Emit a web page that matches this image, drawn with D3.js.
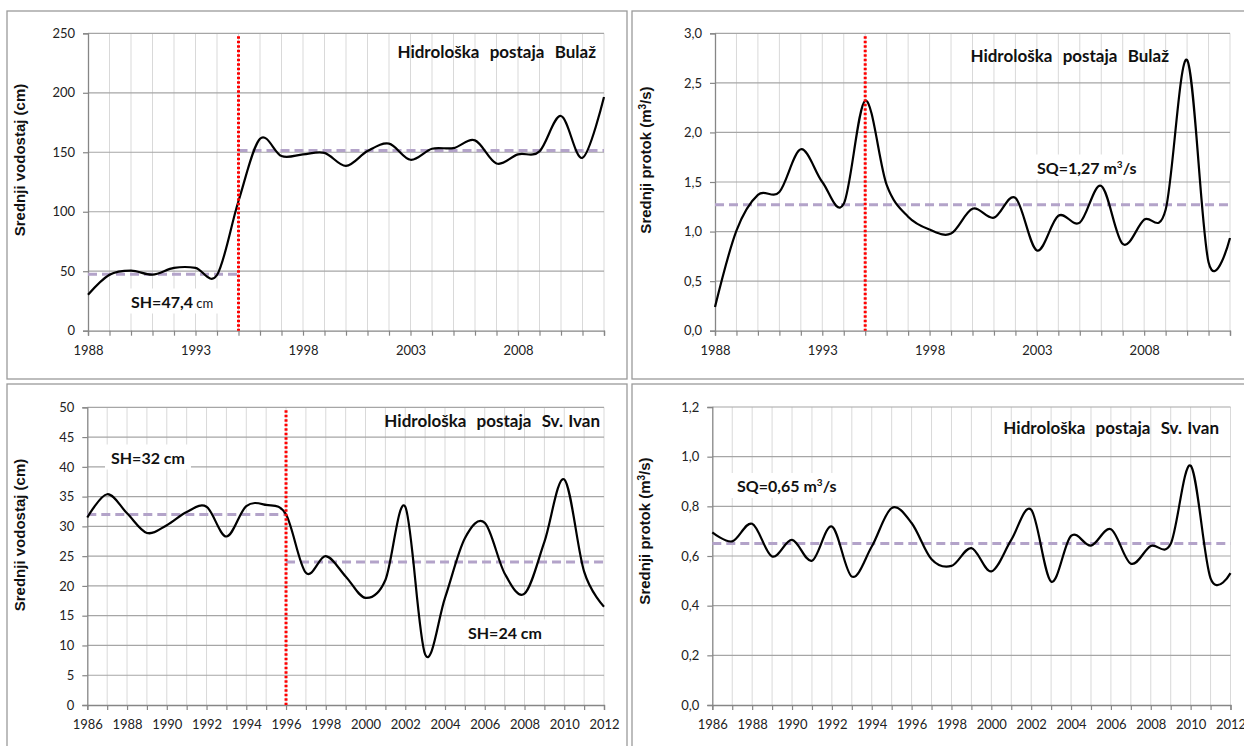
<!DOCTYPE html>
<html>
<head>
<meta charset="utf-8">
<script src="https://cdn.jsdelivr.net/npm/d3@7/dist/d3.min.js"></script>
<style>
  body { margin: 0; background: #fff; }
  svg { display: block; }
</style>
</head>
<body>
<svg id="chart" width="1244" height="746"></svg>
<script>
// ---- data ----
const yearsBulaz = [1988, 1989, 1990, 1991, 1992, 1993, 1994, 1995, 1996, 1997, 1998, 1999, 2000,
                    2001, 2002, 2003, 2004, 2005, 2006, 2007, 2008, 2009, 2010, 2011, 2012];
const yearsSvIvan = [1986, 1987, 1988, 1989, 1990, 1991, 1992, 1993, 1994, 1995, 1996, 1997, 1998, 1999,
                     2000, 2001, 2002, 2003, 2004, 2005, 2006, 2007, 2008, 2009, 2010, 2011, 2012];

// Bulaž: mean annual water level (cm) and mean annual discharge (m3/s)
const bulazLevel = [30.3, 47.0, 50.5, 47.1, 52.8, 52.8, 46.8, 109.0, 161.3, 146.8, 148.2, 149.5, 138.5,
                    151.0, 157.2, 143.7, 153.0, 153.5, 160.0, 140.6, 148.2, 150.8, 180.5, 145.3, 196.5];
const bulazFlow = [0.24, 1.01, 1.37, 1.40, 1.83, 1.50, 1.28, 2.32, 1.47, 1.15, 1.02, 0.98, 1.23,
                   1.14, 1.34, 0.81, 1.16, 1.09, 1.46, 0.875, 1.12, 1.22, 2.73, 0.69, 0.935];

// Sv. Ivan: mean annual water level (cm) and mean annual discharge (m3/s)
const svIvanLevel = [31.5, 35.4, 32.2, 28.9, 30.2, 32.4, 33.3, 28.3, 33.4, 33.6, 32.0, 22.2, 25.0, 21.6,
                     18.0, 21.0, 33.3, 8.5, 18.0, 28.0, 30.6, 22.1, 18.7, 27.4, 37.9, 22.4, 16.5];
const svIvanFlow = [0.695, 0.659, 0.730, 0.598, 0.665, 0.581, 0.719, 0.517, 0.638, 0.793, 0.733, 0.587, 0.560, 0.632,
                    0.538, 0.665, 0.786, 0.497, 0.681, 0.642, 0.708, 0.569, 0.640, 0.649, 0.964, 0.510, 0.531];

// period means
const bulazLevelMeans = [{ from: 1988, to: 1995, value: 47.4 }, { from: 1995, to: 2012, value: 151.5 }];
const bulazFlowMeans = [{ from: 1988, to: 2012, value: 1.27 }];
const svIvanLevelMeans = [{ from: 1986, to: 1996, value: 32 }, { from: 1996, to: 2012, value: 24 }];
const svIvanFlowMeans = [{ from: 1986, to: 2012, value: 0.65 }];

// break years (red dotted markers)
const bulazBreakYear = 1995;
const svIvanBreakYear = 1996;

// axis ticks
const bulazLevelTicks = [0, 50, 100, 150, 200, 250];
const bulazFlowTicks = [0, 0.5, 1.0, 1.5, 2.0, 2.5, 3.0];
const svIvanLevelTicks = [0, 5, 10, 15, 20, 25, 30, 35, 40, 45, 50];
const svIvanFlowTicks = [0, 0.2, 0.4, 0.6, 0.8, 1.0, 1.2];
const bulazYearLabels = [1988, 1993, 1998, 2003, 2008];
const svIvanYearLabels = [1986, 1988, 1990, 1992, 1994, 1996, 1998, 2000, 2002, 2004, 2006, 2008, 2010, 2012];

const titleBulaz = "Hidrološka\u00a0 postaja\u00a0 Bulaž";
const titleSvIvan = "Hidrološka\u00a0 postaja\u00a0 Sv. Ivan";
const labelLevel = "Srednji vodostaj (cm)";

// ---- drawing ----
const svg = d3.select("#chart");
const commaFmt = d => d.toFixed(1).replace(".", ",");

function drawPanel(cfg) {
  const g = svg.append("g");

  // panel frame
  g.append("rect")
    .attr("x", cfg.frame[0]).attr("y", cfg.frame[1])
    .attr("width", cfg.frame[2]).attr("height", cfg.frame[3])
    .attr("fill", "#fff").attr("stroke", "#9a9a9a").attr("stroke-width", 1.3);

  const [L, R, T, B] = cfg.plot;
  const x = d3.scaleLinear().domain([cfg.years[0], cfg.years[cfg.years.length - 1]]).range([L, R]);
  const y = d3.scaleLinear().domain([0, cfg.yTicks[cfg.yTicks.length - 1]]).range([B, T]);

  // vertical gridlines (every year)
  g.append("g").selectAll("line").data(cfg.years.slice(1)).join("line")
    .attr("x1", d => x(d)).attr("x2", d => x(d))
    .attr("y1", T).attr("y2", B)
    .attr("stroke", "#d9d9d9").attr("stroke-width", 1);

  // horizontal gridlines
  g.append("g").selectAll("line").data(cfg.yTicks.slice(1)).join("line")
    .attr("x1", L).attr("x2", R)
    .attr("y1", d => y(d)).attr("y2", d => y(d))
    .attr("stroke", "#a6a6a6").attr("stroke-width", 1.2);

  // axes
  const labelSet = new Set(cfg.yearLabels);
  const xAxis = g.append("g").attr("transform", `translate(0,${B})`)
    .call(d3.axisBottom(x).tickValues(cfg.years).tickSize(5).tickPadding(10)
      .tickFormat(d => labelSet.has(d) ? String(d) : ""));
  const yAxis = g.append("g").attr("transform", `translate(${L},0)`)
    .call(d3.axisLeft(y).tickValues(cfg.yTicks).tickSize(5).tickPadding(8).tickFormat(cfg.yFormat));
  [xAxis, yAxis].forEach(a => {
    a.select(".domain").attr("stroke", "#868686").attr("stroke-width", 1.3);
    a.selectAll(".tick line").attr("stroke", "#868686").attr("stroke-width", 1.2);
    a.selectAll(".tick text").attr("fill", "#222").attr("font-family", "Lato, 'Open Sans', sans-serif")
      .attr("font-size", 13);
  });

  // annotation boxes / texts
  cfg.notes.forEach(n => {
    const t = g.append("text")
      .attr("x", n.x).attr("y", n.y)
      .attr("font-family", "Lato, 'Open Sans', sans-serif").attr("font-weight", 700)
      .attr("font-size", 16).attr("fill", "#111");
    n.parts.forEach(p => {
      const ts = t.append("tspan").text(p.text);
      if (p.small) ts.attr("font-size", 13).attr("font-weight", 400);
      if (p.sup) ts.attr("font-size", 10).attr("baseline-shift", "super");
    });
    const bb = t.node().getBBox();
    g.insert("rect", () => t.node())
      .attr("x", bb.x - 6).attr("y", bb.y - 3)
      .attr("width", bb.width + 12).attr("height", bb.height + 6)
      .attr("fill", "#fff");
  });

  // mean lines
  g.append("g").selectAll("line").data(cfg.means).join("line")
    .attr("x1", d => x(d.from)).attr("x2", d => x(d.to))
    .attr("y1", d => y(d.value)).attr("y2", d => y(d.value))
    .attr("stroke", "#b3a3c9").attr("stroke-width", 3).attr("stroke-dasharray", "9,5");

  // series line
  const line = d3.line()
    .x((d, i) => x(cfg.years[i]))
    .y(d => y(d))
    .curve(d3.curveCardinal.tension(0));
  g.append("path").datum(cfg.values)
    .attr("d", line).attr("fill", "none")
    .attr("stroke", "#000").attr("stroke-width", 2.2).attr("stroke-linejoin", "round");

  // break marker
  if (cfg.breakYear != null) {
    g.append("line")
      .attr("x1", x(cfg.breakYear)).attr("x2", x(cfg.breakYear))
      .attr("y1", T + 3).attr("y2", B)
      .attr("stroke", "#ff0000").attr("stroke-width", 3).attr("stroke-dasharray", "2.5,2");
  }

  // title
  g.append("text")
    .attr("x", cfg.title.x).attr("y", cfg.title.y).attr("text-anchor", "end")
    .attr("font-family", "Lato, 'Open Sans', sans-serif").attr("font-weight", 700)
    .attr("font-size", 17).attr("word-spacing", 1).attr("fill", "#111")
    .text(cfg.title.text);

  // y-axis label
  const yl = g.append("text")
    .attr("transform", `translate(${cfg.yLabel.x},${cfg.yLabel.y}) rotate(-90)`)
    .attr("text-anchor", "middle").attr("dy", "0.36em")
    .attr("font-family", "'Liberation Sans', Arial, sans-serif").attr("font-weight", 700)
    .attr("font-size", 15).attr("fill", "#111");
  cfg.yLabel.parts.forEach(p => {
    const ts = yl.append("tspan").text(p.text);
    if (p.sup) ts.attr("font-size", 10).attr("baseline-shift", "super");
  });
}

drawPanel({
  frame: [7, 11, 620, 368],
  plot: [88, 604, 33.3, 330.7],
  years: yearsBulaz, values: bulazLevel, means: bulazLevelMeans, breakYear: bulazBreakYear,
  yTicks: bulazLevelTicks, yFormat: d => String(d), yearLabels: bulazYearLabels,
  title: { text: titleBulaz, x: 596, y: 58 },
  yLabel: { x: 20, y: 160, parts: [{ text: labelLevel }] },
  notes: [{ x: 131, y: 307.5, parts: [{ text: "SH=47,4" }, { text: " cm", small: true }] }]
});

drawPanel({
  frame: [632, 11, 640, 368],
  plot: [715, 1230, 33.3, 330.7],
  years: yearsBulaz, values: bulazFlow, means: bulazFlowMeans, breakYear: bulazBreakYear,
  yTicks: bulazFlowTicks, yFormat: commaFmt, yearLabels: bulazYearLabels,
  title: { text: titleBulaz, x: 1169, y: 61.5 },
  yLabel: { x: 646, y: 160, parts: [{ text: "Srednji protok (m" }, { text: "3", sup: true }, { text: "/s)" }] },
  notes: [{ x: 1037, y: 173.5, parts: [{ text: "SQ=1,27 m" }, { text: "3", sup: true }, { text: "/s" }] }]
});

drawPanel({
  frame: [7, 384, 620, 400],
  plot: [87.3, 604, 407.3, 705],
  years: yearsSvIvan, values: svIvanLevel, means: svIvanLevelMeans, breakYear: svIvanBreakYear,
  yTicks: svIvanLevelTicks, yFormat: d => String(d), yearLabels: svIvanYearLabels,
  title: { text: titleSvIvan, x: 600, y: 427 },
  yLabel: { x: 20, y: 535, parts: [{ text: labelLevel }] },
  notes: [
    { x: 111, y: 463.5, parts: [{ text: "SH=32 cm" }] },
    { x: 468, y: 638.5, parts: [{ text: "SH=24 cm" }] }
  ]
});

drawPanel({
  frame: [632, 384, 640, 400],
  plot: [712.3, 1230.5, 407, 705],
  years: yearsSvIvan, values: svIvanFlow, means: svIvanFlowMeans, breakYear: null,
  yTicks: svIvanFlowTicks, yFormat: commaFmt, yearLabels: svIvanYearLabels,
  title: { text: titleSvIvan, x: 1219, y: 433.5 },
  yLabel: { x: 645, y: 531, parts: [{ text: "Srednji protok (m" }, { text: "3", sup: true }, { text: "/s)" }] },
  notes: [{ x: 737, y: 492, parts: [{ text: "SQ=0,65 m" }, { text: "3", sup: true }, { text: "/s" }] }]
});
</script>
</body>
</html>
